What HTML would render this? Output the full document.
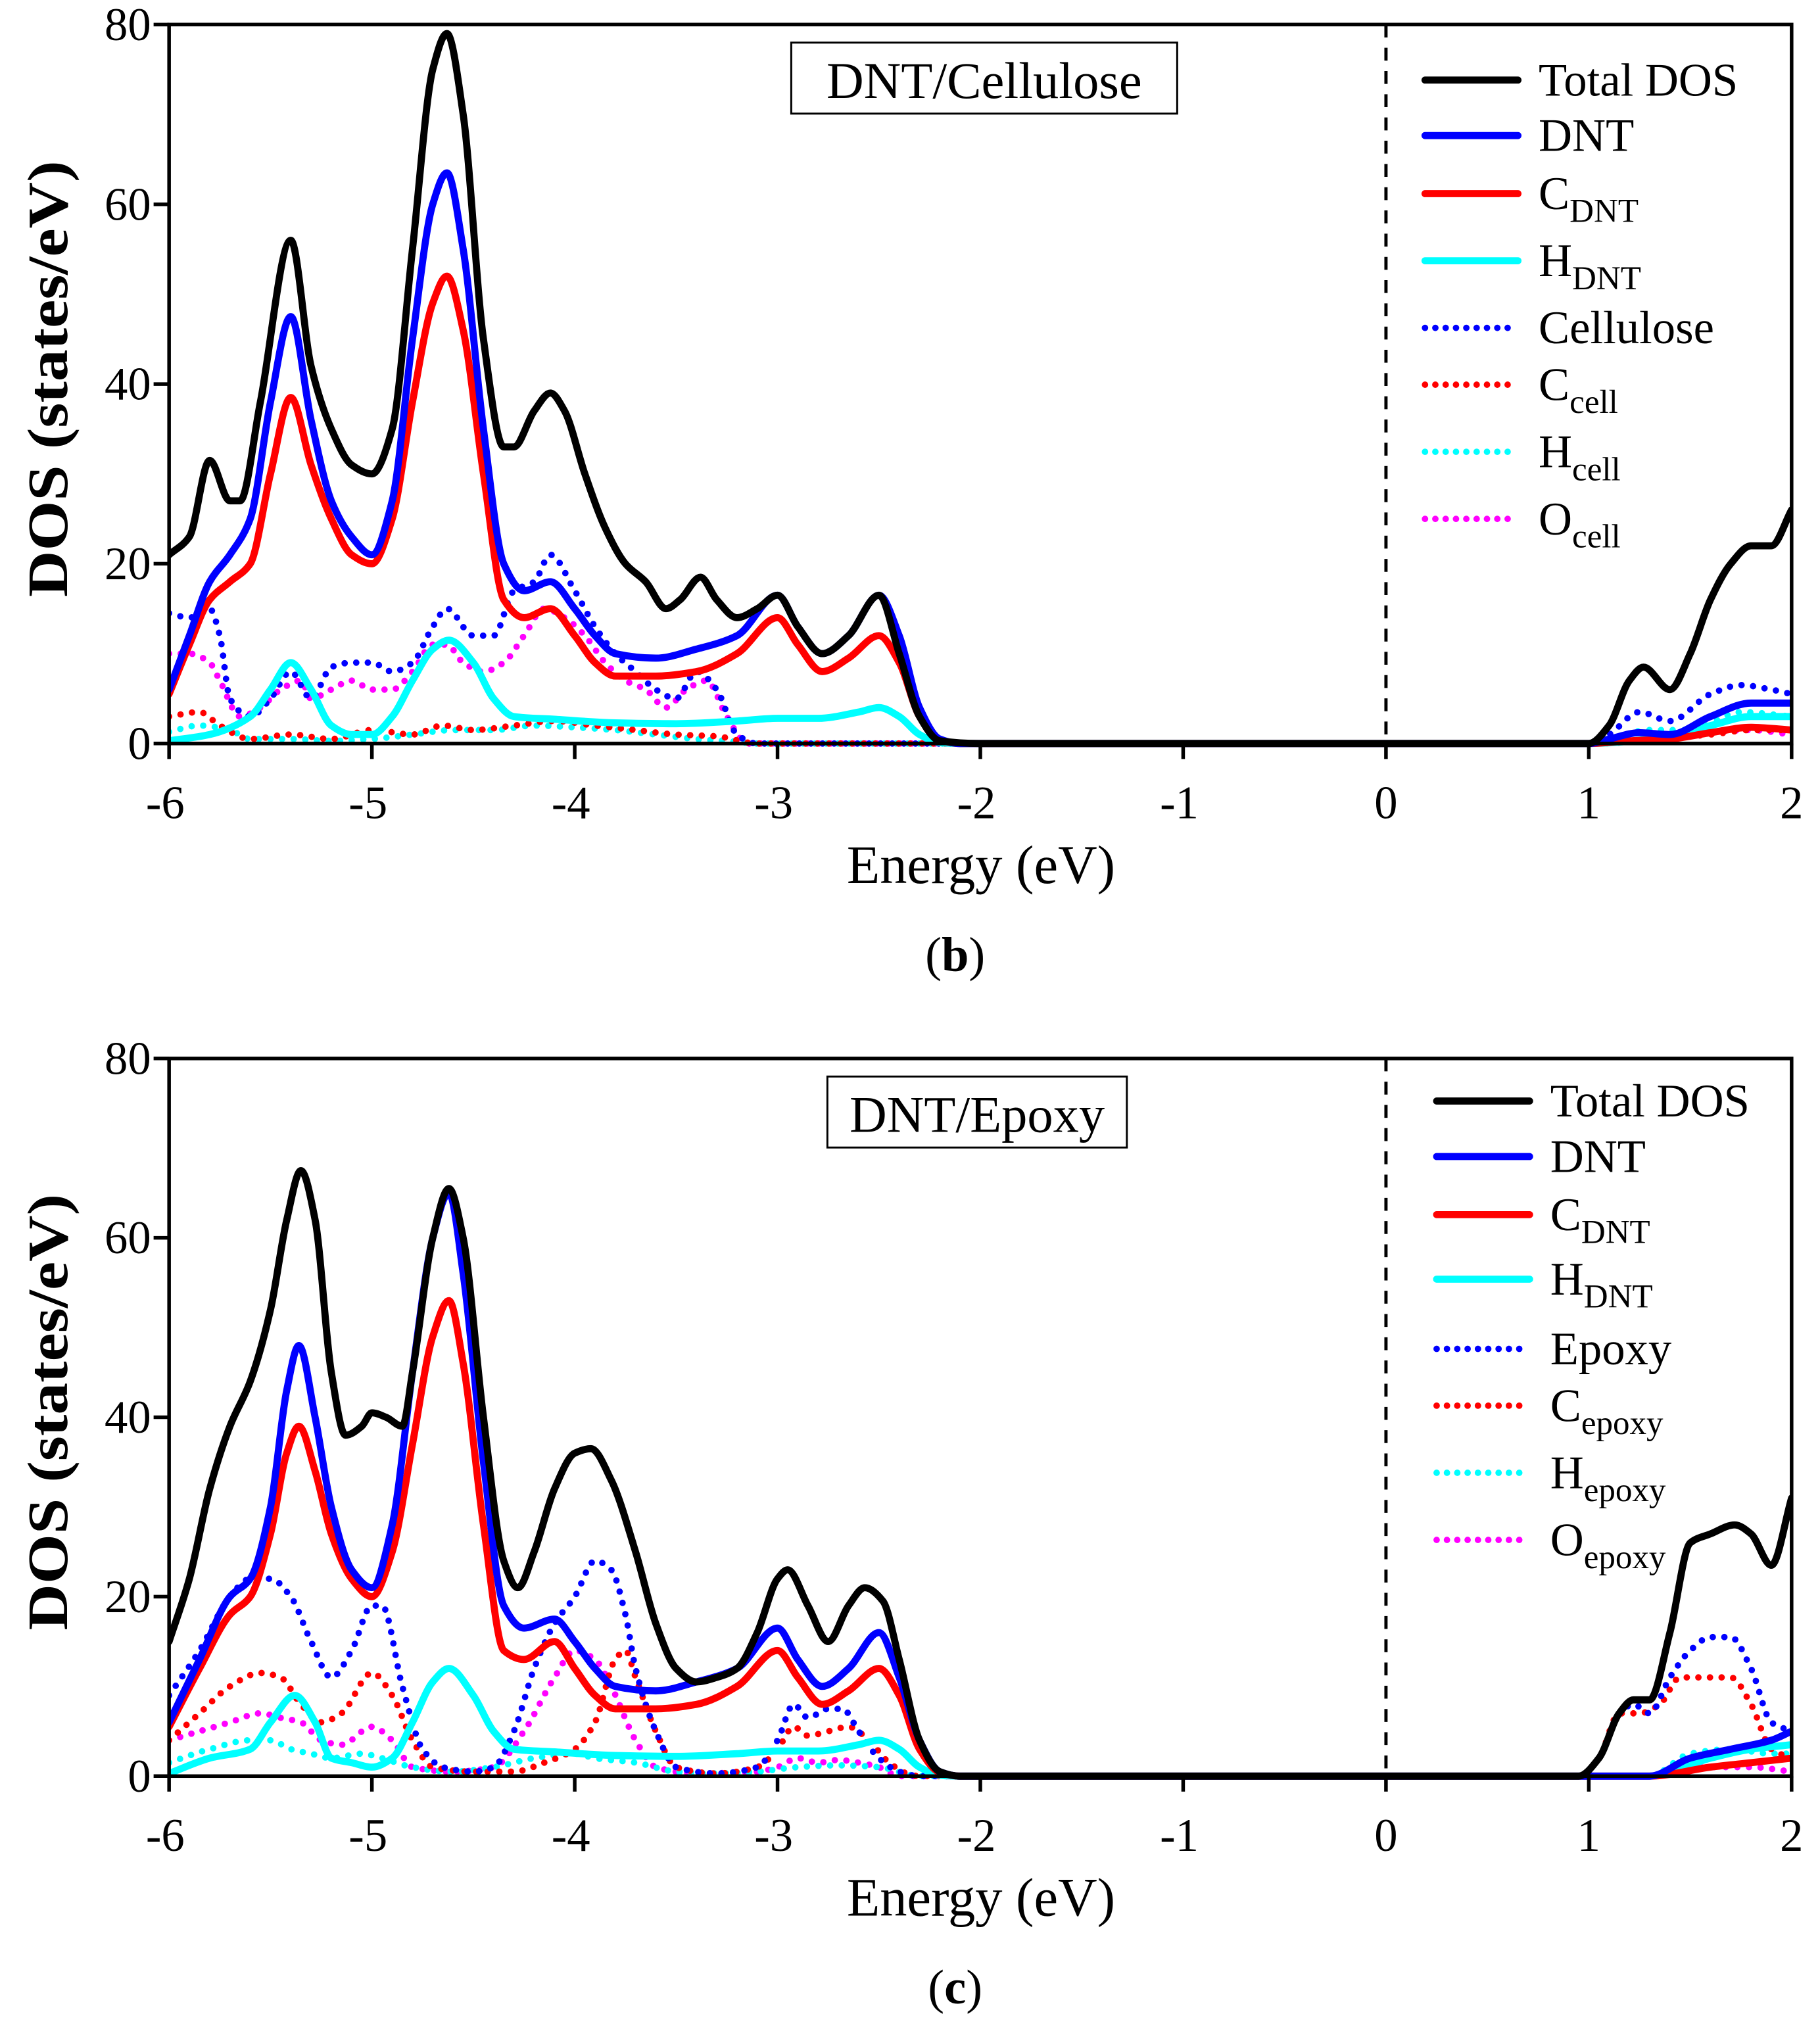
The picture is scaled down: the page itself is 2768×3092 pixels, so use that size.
<!DOCTYPE html>
<html><head><meta charset="utf-8">
<style>
html,body{margin:0;padding:0;background:#fff;}
svg{display:block;}
text{font-family:"Liberation Serif",serif;fill:#000;}
</style></head>
<body>
<svg id="fig" xmlns="http://www.w3.org/2000/svg" width="2768" height="3092" viewBox="0 0 1410 1575"></svg>
<script>
// ---------- Data: panel (b) DNT/Cellulose ----------
const bTotal=[[-6,21],[-5.9,23],[-5.8,31.5],[-5.7,27],[-5.65,27],[-5.55,38],[-5.4,56],[-5.3,42],[-5.2,35],[-5.1,31],[-5.0,30],[-4.9,35],[-4.8,55],[-4.7,75],[-4.63,79],[-4.55,70],[-4.45,45],[-4.35,33],[-4.3,33],[-4.2,37],[-4.12,39],[-4.05,37],[-3.95,30],[-3.85,24],[-3.75,20],[-3.65,18],[-3.55,15],[-3.48,16],[-3.38,18.5],[-3.3,16],[-3.2,14],[-3.1,15],[-3.0,16.5],[-2.9,13],[-2.78,10],[-2.65,12],[-2.5,16.5],[-2.4,10],[-2.3,3],[-2.2,0.3],[-2,0],[1,0],[1.1,2],[1.2,7],[1.27,8.5],[1.4,6],[1.5,10],[1.6,16],[1.7,20],[1.8,22],[1.9,22],[2,26]];
const bDNT=[[-6,6],[-5.9,12],[-5.8,18],[-5.7,21],[-5.6,25],[-5.5,38],[-5.4,47.5],[-5.3,36],[-5.2,27],[-5.1,23],[-5.0,21],[-4.9,27],[-4.8,45],[-4.7,60],[-4.63,63.5],[-4.55,55],[-4.45,35],[-4.35,20],[-4.25,17],[-4.12,18],[-4.0,15],[-3.9,12],[-3.8,10],[-3.6,9.5],[-3.4,10.5],[-3.2,12],[-3.0,16.5],[-2.9,13],[-2.78,10],[-2.65,12],[-2.5,16.5],[-2.4,12],[-2.3,4],[-2.2,0.5],[-2.1,0],[1,0],[1.1,0.5],[1.25,1.2],[1.4,1],[1.6,3],[1.8,4.5],[2,4.5]];
const bCDNT=[[-6,5.5],[-5.9,11],[-5.8,16],[-5.7,18],[-5.6,20],[-5.5,30],[-5.4,38.5],[-5.3,31],[-5.2,25],[-5.1,21],[-5.0,20],[-4.9,25],[-4.8,38],[-4.7,49],[-4.63,52],[-4.55,46],[-4.45,30],[-4.35,16],[-4.25,14],[-4.12,15],[-4.0,12],[-3.9,9],[-3.8,7.5],[-3.6,7.5],[-3.4,8],[-3.2,10],[-3.0,14],[-2.9,11],[-2.78,8],[-2.65,9.5],[-2.5,12],[-2.4,9],[-2.3,3],[-2.2,0.4],[-2.1,0],[1,0],[1.2,0.3],[1.4,0.5],[1.6,1.2],[1.8,1.8],[2,1.5]];
const bHDNT=[[-6,0.3],[-5.8,1],[-5.6,3],[-5.5,6],[-5.4,9],[-5.3,6],[-5.2,2],[-5.1,1],[-5.0,1],[-4.9,3],[-4.8,7],[-4.7,10.5],[-4.62,11.5],[-4.5,9],[-4.4,5],[-4.3,3],[-4.1,2.7],[-3.8,2.3],[-3.5,2.2],[-3.2,2.5],[-3.0,2.8],[-2.8,2.8],[-2.6,3.5],[-2.5,4],[-2.4,3],[-2.3,1],[-2.2,0.1],[-2.1,0],[1,0],[1.3,0.5],[1.6,2],[1.8,3],[2,3]];
const bCell=[[-6,14.5],[-5.9,14],[-5.8,15],[-5.75,12],[-5.7,5],[-5.6,3],[-5.5,5],[-5.4,8],[-5.3,5],[-5.2,8.5],[-5.1,9],[-5.0,9],[-4.9,8],[-4.8,9],[-4.7,13],[-4.63,15],[-4.5,12],[-4.4,12],[-4.3,17],[-4.2,18],[-4.12,21],[-4.0,17],[-3.9,13],[-3.8,10],[-3.7,8],[-3.6,6],[-3.5,5],[-3.4,8],[-3.3,6],[-3.2,1],[-3.1,0],[1,0],[1.1,1],[1.25,3.5],[1.4,2.5],[1.6,5.5],[1.75,6.5],[1.9,6],[2,5.5]];
const bCcell=[[-6,3],[-5.85,3.5],[-5.75,2],[-5.6,0.5],[-5.4,1],[-5.2,0.5],[-5.0,1.5],[-4.8,1],[-4.65,2],[-4.5,1.5],[-4.3,2],[-4.1,2.5],[-3.9,2],[-3.7,1.5],[-3.5,1],[-3.3,0.8],[-3.1,0],[1,0],[1.6,1],[1.8,1.5],[2,1.5]];
const bHcell=[[-6,1.3],[-5.85,2],[-5.7,1.5],[-5.6,0.5],[-5.4,0.5],[-5.2,0.3],[-5.0,0.5],[-4.8,1],[-4.6,1.5],[-4.4,1.5],[-4.2,2],[-4.0,1.8],[-3.8,1.5],[-3.6,1],[-3.4,0.5],[-3.2,0.2],[-3.1,0],[1,0],[1.3,1.5],[1.5,1.5],[1.75,3.5],[2,3]];
const bOcell=[[-6,10],[-5.9,10],[-5.8,9],[-5.75,7],[-5.65,3],[-5.55,4],[-5.45,6],[-5.35,7],[-5.3,5],[-5.2,6],[-5.1,7],[-5.0,6],[-4.9,6],[-4.8,8],[-4.7,11],[-4.63,11],[-4.55,9],[-4.45,8],[-4.35,9],[-4.25,12],[-4.15,15],[-4.05,14],[-3.95,12],[-3.85,9],[-3.75,7],[-3.65,6],[-3.55,4],[-3.45,6],[-3.35,7],[-3.25,3],[-3.15,0],[1,0],[1.5,1],[1.8,1.5],[2,1]];
// ---------- Data: panel (c) DNT/Epoxy ----------
const cTotal=[[-6,15],[-5.9,22],[-5.8,32],[-5.7,39],[-5.6,44],[-5.5,52],[-5.42,62],[-5.35,67.5],[-5.28,62],[-5.2,45],[-5.13,38],[-5.05,39],[-5.0,40.5],[-4.93,40],[-4.85,39],[-4.8,45],[-4.7,60],[-4.62,65.5],[-4.55,60],[-4.45,40],[-4.35,24],[-4.28,21],[-4.2,25],[-4.1,32],[-4.0,36],[-3.92,36.5],[-3.82,33],[-3.7,25],[-3.6,17],[-3.5,12],[-3.4,10.5],[-3.3,11],[-3.2,12],[-3.1,16],[-3.0,22],[-2.95,23],[-2.85,19],[-2.75,15],[-2.65,19],[-2.57,21],[-2.48,19.5],[-2.4,13],[-2.3,4],[-2.2,0.5],[-2.1,0],[0.95,0],[1.05,2],[1.15,7],[1.22,8.5],[1.3,8.5],[1.4,16],[1.5,26],[1.6,27],[1.72,28],[1.8,27],[1.9,23.5],[2,31]];
const cDNT=[[-6,6],[-5.85,13],[-5.7,20],[-5.6,22],[-5.5,30],[-5.42,43],[-5.36,48],[-5.28,40],[-5.2,30],[-5.1,23],[-5.0,21],[-4.9,28],[-4.8,45],[-4.7,60],[-4.62,65],[-4.55,56],[-4.45,35],[-4.35,19],[-4.25,16.5],[-4.1,17.5],[-4.0,15],[-3.9,12],[-3.8,10],[-3.6,9.5],[-3.4,10.5],[-3.2,12],[-3.0,16.5],[-2.9,13],[-2.78,10],[-2.65,12],[-2.5,16],[-2.4,11],[-2.3,4],[-2.2,0.5],[-2.1,0],[1.3,0],[1.5,2],[1.7,3],[1.9,4],[2,5]];
const cCDNT=[[-6,5.5],[-5.85,12],[-5.7,18],[-5.6,20],[-5.5,27],[-5.42,36],[-5.36,39],[-5.28,34],[-5.2,27],[-5.1,22],[-5.0,20],[-4.9,25],[-4.8,37],[-4.7,49],[-4.62,53],[-4.55,46],[-4.45,28],[-4.35,14],[-4.25,13],[-4.1,15],[-4.0,12],[-3.9,9],[-3.8,7.5],[-3.6,7.5],[-3.4,8],[-3.2,10],[-3.0,14],[-2.9,11],[-2.78,8],[-2.65,9.5],[-2.5,12],[-2.4,9],[-2.3,3],[-2.2,0.4],[-2.1,0],[1.3,0],[1.6,1],[1.8,1.5],[2,2]];
const cHDNT=[[-6,0.3],[-5.8,2],[-5.6,3],[-5.5,6],[-5.38,9],[-5.28,6],[-5.2,2],[-5.1,1.5],[-5.0,1],[-4.9,2],[-4.8,6],[-4.7,10.5],[-4.62,12],[-4.5,9],[-4.4,5],[-4.3,3],[-4.1,2.7],[-3.8,2.3],[-3.5,2.2],[-3.2,2.5],[-3.0,2.8],[-2.8,2.8],[-2.6,3.5],[-2.5,4],[-2.4,3],[-2.3,1],[-2.2,0.1],[-2.1,0],[1.3,0],[1.6,2],[1.8,3],[2,3.5]];
const cEpoxy=[[-6,9],[-5.85,14],[-5.7,20],[-5.6,22],[-5.5,22],[-5.4,20],[-5.3,15],[-5.2,11],[-5.1,14],[-5.0,19],[-4.95,19],[-4.85,10],[-4.75,3],[-4.65,1],[-4.5,0.5],[-4.4,1],[-4.3,5],[-4.2,12],[-4.1,17],[-4.0,20],[-3.9,24],[-3.82,23],[-3.75,18],[-3.7,12],[-3.6,5],[-3.5,1],[-3.3,0.3],[-3.1,1],[-3.0,4],[-2.92,8],[-2.85,6.5],[-2.75,7.5],[-2.68,7.5],[-2.6,5],[-2.5,2],[-2.4,0.5],[-2.3,0],[0.95,0],[1.05,2],[1.15,7],[1.22,8],[1.3,7],[1.4,11],[1.5,14],[1.6,15.5],[1.7,15.5],[1.8,12],[1.9,6],[2,5]];
const cCepoxy=[[-6,4],[-5.85,7],[-5.7,10],[-5.55,11.5],[-5.45,11],[-5.35,8],[-5.25,6],[-5.15,7],[-5.0,11.5],[-4.9,9],[-4.8,4],[-4.7,1],[-4.5,0.5],[-4.3,0.5],[-4.15,1.5],[-4.0,3],[-3.9,6],[-3.8,13],[-3.75,14],[-3.7,11],[-3.6,5],[-3.5,1],[-3.3,0.3],[-3.1,1],[-3.0,3],[-2.92,5.5],[-2.85,4.5],[-2.75,5],[-2.65,5.5],[-2.55,4],[-2.45,1.5],[-2.35,0.2],[-2.3,0],[0.95,0],[1.05,2],[1.15,7],[1.25,7],[1.35,8],[1.45,11],[1.6,11],[1.7,11],[1.8,8],[1.9,3],[2,2]];
const cHepoxy=[[-6,1.5],[-5.8,3],[-5.6,4],[-5.5,4],[-5.4,3],[-5.3,2.5],[-5.2,2],[-5.05,2.5],[-4.95,2],[-4.8,1],[-4.6,0.5],[-4.4,1],[-4.2,2],[-4.0,2.5],[-3.9,2],[-3.7,1.5],[-3.5,0.5],[-3.3,0.3],[-3.1,0.5],[-2.9,1],[-2.7,1.2],[-2.5,1],[-2.3,0],[1.3,0],[1.5,2.5],[1.7,3],[1.9,2.5],[2,2.5]];
const cOepoxy=[[-6,4],[-5.85,5],[-5.7,6],[-5.55,7],[-5.45,6.5],[-5.35,6],[-5.25,4],[-5.15,3.5],[-5.0,5.5],[-4.9,4],[-4.8,1],[-4.6,0.5],[-4.4,1],[-4.25,5],[-4.1,11],[-4.0,14],[-3.9,13],[-3.82,10],[-3.7,4],[-3.6,1],[-3.4,0.3],[-3.1,0.5],[-3.0,1],[-2.9,2],[-2.8,1.5],[-2.7,1.8],[-2.6,1.5],[-2.5,1],[-2.4,0],[1.3,0],[1.6,1],[1.8,1],[2,0.5]];
// ---------- Tick labels ----------
const xTicks=[-6,-5,-4,-3,-2,-1,0,1,2];
const yTicks=[0,20,40,60,80];

const NS='http://www.w3.org/2000/svg';
const svg=document.getElementById('fig');
function mk(tag,attrs,parent){const e=document.createElementNS(NS,tag);for(const k in attrs)e.setAttribute(k,attrs[k]);(parent||svg).appendChild(e);return e;}
// monotone cubic (Fritsch-Carlson) in screen coords
function smooth(pts){
  const n=pts.length;
  const dx=[],m=[];
  for(let i=0;i<n-1;i++){dx.push(pts[i+1][0]-pts[i][0]);m.push((pts[i+1][1]-pts[i][1])/dx[i]);}
  const t=new Array(n);
  t[0]=m[0];t[n-1]=m[n-2];
  for(let i=1;i<n-1;i++){
    if(m[i-1]*m[i]<=0)t[i]=0;
    else{const w1=2*dx[i]+dx[i-1],w2=dx[i]+2*dx[i-1];t[i]=(w1+w2)/(w1/m[i-1]+w2/m[i]);}
  }
  let d='M'+pts[0][0].toFixed(2)+','+pts[0][1].toFixed(2);
  for(let i=0;i<n-1;i++){
    const h=dx[i]/3;
    d+=' C'+(pts[i][0]+h).toFixed(2)+','+(pts[i][1]+t[i]*h).toFixed(2)+' '+(pts[i+1][0]-h).toFixed(2)+','+(pts[i+1][1]-t[i+1]*h).toFixed(2)+' '+pts[i+1][0].toFixed(2)+','+pts[i+1][1].toFixed(2);
  }
  return d;
}
const L=131,R=1388;
function panel(cfg){
  const T=cfg.top,B=cfg.bottom;
  const xs=v=>L+(v+6)/8*(R-L);
  const ys=v=>B-v/80*(B-T);
  const g=mk('g',{});
  
  
  const clip=mk('clipPath',{id:cfg.name+'-clip'},g);
  mk('rect',{x:L,y:T,width:R-L,height:B-T+4},clip);
  const fl=mk('line',{x1:xs(0),x2:xs(0),y1:T,y2:B,stroke:'#000','stroke-width':2.5,'stroke-dasharray':'10 8'},g);
  
  
  const sg=mk('g',{'clip-path':'url(#'+cfg.name+'-clip)'},g);
  cfg.series.forEach(s=>{
    const pts=s.data.map(p=>[xs(p[0]),ys(p[1])]);
    const a={d:smooth(pts),fill:'none',stroke:s.color,'stroke-linecap':'round','stroke-linejoin':'round'};
    if(s.dot){a['stroke-width']=5;a['stroke-dasharray']='0 9';}else{a['stroke-width']=5.5;}
    const p=mk('path',a,sg);
    
    
  });
  const fr=mk('rect',{x:L,y:T,width:R-L,height:B-T,fill:'none',stroke:'#000','stroke-width':2.8},g);
  
  
  xTicks.forEach(v=>{
    const t=mk('line',{x1:xs(v),x2:xs(v),y1:B,y2:B+12,stroke:'#000','stroke-width':2.8},g);
    
    
    const tx=mk('text',{x:xs(v)-(v<0?3:0),y:B+58,'font-size':36,'text-anchor':'middle'},g);
    tx.textContent=String(v);
    
    
  });
  yTicks.forEach(v=>{
    const t=mk('line',{x1:L-12,x2:L,y1:ys(v),y2:ys(v),stroke:'#000','stroke-width':2.8},g);
    
    
    const tx=mk('text',{x:L-14,y:ys(v)+12,'font-size':36,'text-anchor':'end'},g);
    tx.textContent=String(v);
    
    
  });
  const xl=mk('text',{x:760,y:B+108,'font-size':42,'text-anchor':'middle'},g);
  xl.textContent='Energy (eV)';
  
  
  const yl=mk('text',{x:0,y:0,'font-size':44,'font-weight':'bold','text-anchor':'middle',transform:'translate(52,'+((T+B)/2-4)+') rotate(-90)',textLength:338,lengthAdjust:'spacingAndGlyphs'},g);
  yl.textContent='DOS (states/eV)';
  
  
  const tb=mk('rect',{x:cfg.box[0],y:T+14,width:cfg.box[1],height:55,fill:'#fff',stroke:'#000','stroke-width':1.5},g);
  
  
  const tt=mk('text',{x:cfg.box[0]+cfg.box[1]/2,y:T+57,'font-size':40,'text-anchor':'middle'},g);
  tt.textContent=cfg.title;
  
  
  cfg.series.slice().sort((a,b)=>a.li-b.li).forEach(s=>{
    const y=T+cfg.legY[s.li];
    const a={x1:cfg.legX,x2:cfg.legX+72,y1:y,y2:y,stroke:s.color,'stroke-linecap':'round'};
    if(s.dot){a['stroke-width']=5;a['stroke-dasharray']='0 8';}else a['stroke-width']=5.5;
    const ln=mk('line',a,g);
    
    
    const tx=mk('text',{x:cfg.legX+88,y:y+12,'font-size':36},g);
    
    
    tx.appendChild(document.createTextNode(s.label));
    if(s.sub){const ts=mk('tspan',{'font-size':26,dy:10},tx);ts.textContent=s.sub;}
  });
  const pl=mk('text',{x:740,y:B+176,'font-size':38,'text-anchor':'middle'},g);
  
  
  pl.appendChild(document.createTextNode('('));
  const bb=mk('tspan',{'font-weight':'bold'},pl);bb.textContent=cfg.letter;
  pl.appendChild(document.createTextNode(')'));
}
const BL='#0000ff',RD='#ff0000',CY='#00ffff',MG='#ff00ff',BK='#000';
panel({name:'panel-b-cellulose',top:19,bottom:576,title:'DNT/Cellulose',box:[613,299],letter:'b',legX:1104,
  legY:[43,86,131,183,235,279,331,383],
  series:[
   {key:'o-cell',label:'O',sub:'cell',data:bOcell,color:MG,dot:1,li:7},
   {key:'h-cell',label:'H',sub:'cell',data:bHcell,color:CY,dot:1,li:6},
   {key:'c-cell',label:'C',sub:'cell',data:bCcell,color:RD,dot:1,li:5},
   {key:'cellulose',label:'Cellulose',data:bCell,color:BL,dot:1,li:4},
   {key:'h-dnt',label:'H',sub:'DNT',data:bHDNT,color:CY,li:3},
   {key:'c-dnt',label:'C',sub:'DNT',data:bCDNT,color:RD,li:2},
   {key:'dnt',label:'DNT',data:bDNT,color:BL,li:1},
   {key:'total-dos',label:'Total DOS',data:bTotal,color:BK,li:0}]});
panel({name:'panel-c-epoxy',top:820,bottom:1376,title:'DNT/Epoxy',box:[641,232],letter:'c',legX:1113,
  legY:[33,76,121,171,225,269,321,373],
  series:[
   {key:'o-epoxy',label:'O',sub:'epoxy',data:cOepoxy,color:MG,dot:1,li:7},
   {key:'h-epoxy',label:'H',sub:'epoxy',data:cHepoxy,color:CY,dot:1,li:6},
   {key:'c-epoxy',label:'C',sub:'epoxy',data:cCepoxy,color:RD,dot:1,li:5},
   {key:'epoxy',label:'Epoxy',data:cEpoxy,color:BL,dot:1,li:4},
   {key:'h-dnt',label:'H',sub:'DNT',data:cHDNT,color:CY,li:3},
   {key:'c-dnt',label:'C',sub:'DNT',data:cCDNT,color:RD,li:2},
   {key:'dnt',label:'DNT',data:cDNT,color:BL,li:1},
   {key:'total-dos',label:'Total DOS',data:cTotal,color:BK,li:0}]});
</script>
</body></html>
